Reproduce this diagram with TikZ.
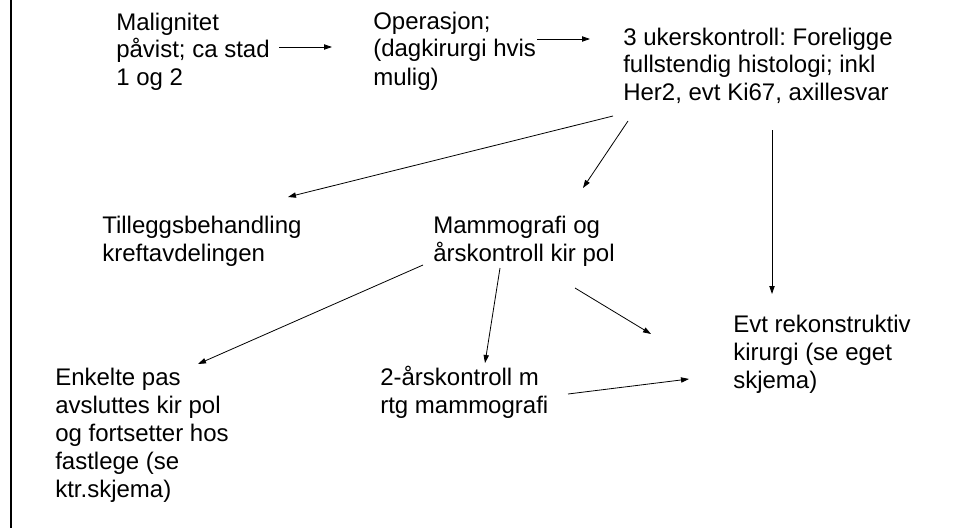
\documentclass[tikz,border=0pt]{standalone}
\usepackage{fontspec}
\setmainfont{Liberation Sans}
\usepackage{tikz}
\usetikzlibrary{arrows.meta}
\frenchspacing

\begin{document}
\begin{tikzpicture}[x=0.75pt, y=-0.75pt,
	tekst/.style = {anchor=base west, align=left, inner sep=0pt, font=\fontsize{18}{21}\selectfont},
	pil/.style = {-{Triangle[length=6pt,width=4pt]}, line width=0.6pt}]
	\useasboundingbox (0,0) rectangle (964,528);
	\draw[line width=1.2pt] (11,0) -- (11,528);
	% tekstene er plassert etter grunnlinja til siste linje
	\node (mal) at (116,86) [tekst] {Malignitet\\påvist; ca stad\\1 og 2};
	\node (op) at (373,85) [tekst] {Operasjon;\\(dagkirurgi hvis\\mulig)};
	\node (uke) at (623,101) [tekst] {3 ukerskontroll: Foreligge\\fullstendig histologi; inkl\\Her2, evt Ki67, axillesvar};
	\node (till) at (102,261) [tekst] {Tilleggsbehandling\\kreftavdelingen};
	\node (mam) at (433,261) [tekst] {Mammografi og\\årskontroll kir pol};
	\node (enk) at (55,497) [tekst] {Enkelte pas\\avsluttes kir pol\\og fortsetter hos\\fastlege (se\\ktr.skjema)};
	\node (to) at (380,413) [tekst] {2-årskontroll m\\rtg mammografi};
	\node (evt) at (733,388) [tekst] {Evt rekonstruktiv\\kirurgi (se eget\\skjema)};
	% ender
	\coordinate (mal-ut) at (279,47);
	\coordinate (op-inn) at (332,47);
	\coordinate (op-ut) at (537,39);
	\coordinate (uke-inn) at (590,39);
	\coordinate (uke-ut1) at (613,116);
	\coordinate (till-inn) at (288,197);
	\coordinate (uke-ut2) at (628,121);
	\coordinate (mam-inn) at (583,188);
	\coordinate (uke-ut3) at (772,130);
	\coordinate (evt-inn1) at (772,294);
	\coordinate (mam-ut1) at (423,265);
	\coordinate (enk-inn) at (198,364);
	\coordinate (mam-ut2) at (500,268);
	\coordinate (to-inn) at (485,363);
	\coordinate (mam-ut3) at (575,288);
	\coordinate (evt-inn2) at (651,334);
	\coordinate (to-ut) at (568,394);
	\coordinate (evt-inn3) at (689,379);
	\draw[pil] (mal-ut) -- (op-inn);
	\draw[pil] (op-ut) -- (uke-inn);
	\draw[pil] (uke-ut1) -- (till-inn);
	\draw[pil] (uke-ut2) -- (mam-inn);
	\draw[pil] (uke-ut3) -- (evt-inn1);
	\draw[pil] (mam-ut1) -- (enk-inn);
	\draw[pil] (mam-ut2) -- (to-inn);
	\draw[pil] (mam-ut3) -- (evt-inn2);
	\draw[pil] (to-ut) -- (evt-inn3);
\end{tikzpicture}
\end{document}
